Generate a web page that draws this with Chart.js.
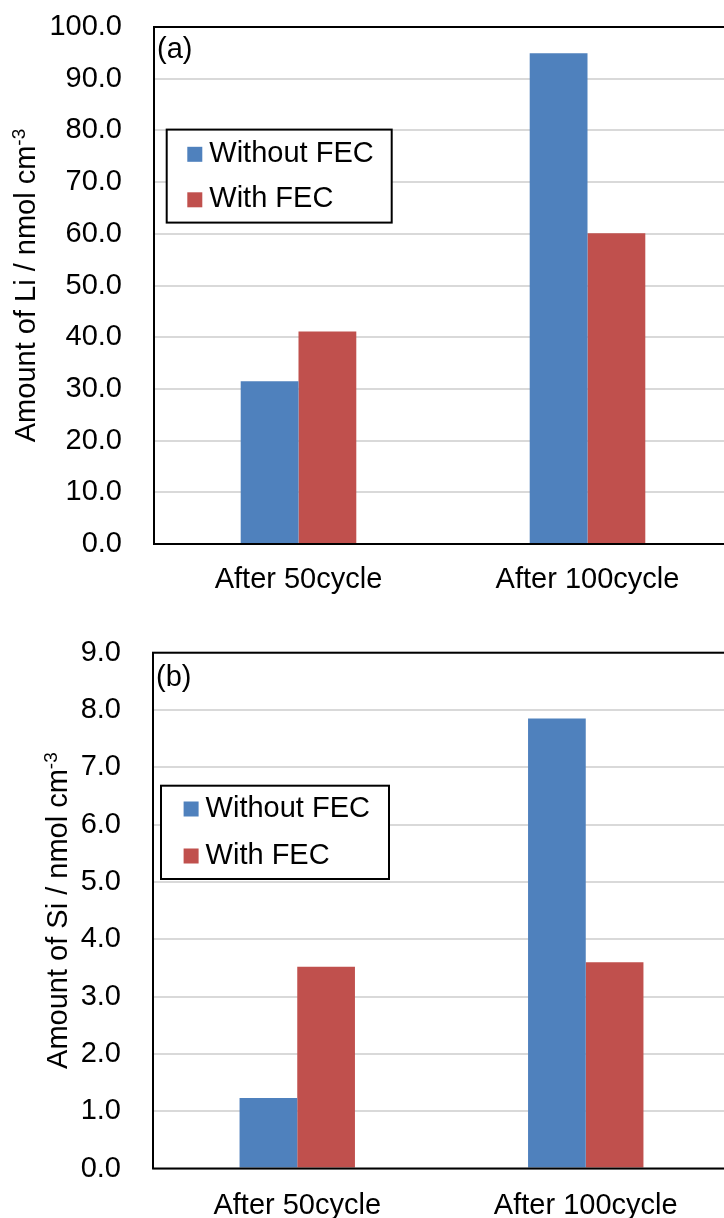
<!DOCTYPE html>
<html>
<head>
<meta charset="utf-8">
<script src="https://cdn.jsdelivr.net/npm/chart.js@4.4.1/dist/chart.umd.min.js"></script>
<style>
  html, body { margin: 0; padding: 0; background: #fff; overflow: hidden; width: 724px; height: 1218px; }
  .panel { position: absolute; left: 0; }
  #p1 { top: 0; }
  #p2 { top: 605px; }
</style>
</head>
<body>
<div class="panel" id="p1"><canvas id="c1" width="740" height="605" style="width:740px;height:605px"></canvas></div>
<div class="panel" id="p2"><canvas id="c2" width="740" height="613" style="width:740px;height:613px"></canvas></div>
<script>
// Categories and series
const categories = ['After 50cycle', 'After 100cycle'];
const seriesNames = ['Without FEC', 'With FEC'];
const seriesColors = ['#4F81BD', '#C0504D'];

// Amount of Li (nmol cm^-3)
const liWithoutFEC = [31.5, 94.9];
const liWithFEC = [41.1, 60.1];

// Amount of Si (nmol cm^-3)
const siWithoutFEC = [1.23, 7.85];
const siWithFEC = [3.52, 3.60];

// Y-axis tick values
const liTicks = [0, 10, 20, 30, 40, 50, 60, 70, 80, 90, 100];
const siTicks = [0, 1, 2, 3, 4, 5, 6, 7, 8, 9];

const FONT = '"Liberation Sans", Arial, Helvetica, sans-serif';
const FS = 29;
const Y_LABEL_GAP = 32;

// Frame, panel letter, boxed legend and y-axis title with superscript
const panelDecor = {
  id: 'panelDecor',
  afterDatasetsDraw(chart, args, opts) {
    const { ctx, chartArea: a } = chart;
    ctx.save();
    ctx.strokeStyle = '#000';
    ctx.lineWidth = 2;
    ctx.strokeRect(a.left, a.top, a.right - a.left, a.bottom - a.top);
    ctx.restore();
  },
  afterDraw(chart, args, opts) {
    const { ctx, chartArea: a } = chart;
    ctx.save();
    ctx.fillStyle = '#000';
    ctx.font = FS + 'px ' + FONT;
    ctx.textBaseline = 'alphabetic';
    ctx.textAlign = 'left';
    // panel letter
    ctx.fillText(opts.letter, a.left + 3, a.top + opts.letterDy);

    // boxed legend
    const bx = a.left + opts.legend.x, by = a.top + opts.legend.y;
    ctx.fillStyle = '#fff';
    ctx.fillRect(bx, by, opts.legend.w, opts.legend.h);
    ctx.strokeStyle = '#000';
    ctx.lineWidth = 2;
    ctx.strokeRect(bx, by, opts.legend.w, opts.legend.h);
    chart.data.datasets.forEach((ds, i) => {
      const cy = by + opts.legend.rows[i];
      const sx = bx + opts.legend.sq;
      ctx.fillStyle = ds.backgroundColor;
      ctx.fillRect(sx, cy - 7.5, 15, 15);
      ctx.fillStyle = '#000';
      ctx.fillText(ds.label, sx + 22, cy + 7.5);
    });

    // y-axis title, hugging the widest tick label
    const ys = chart.scales.y;
    let maxW = 0;
    ys.ticks.forEach(t => { maxW = Math.max(maxW, ctx.measureText(t.label).width); });
    const bxTitle = a.left - Y_LABEL_GAP - maxW - opts.titleGap;
    const cy = (a.top + a.bottom) / 2;
    const supFont = '19px ' + FONT;
    const wMain = ctx.measureText(opts.title).width;
    ctx.font = supFont;
    const wSup = ctx.measureText(opts.titleSup).width;
    const start = -(wMain + wSup) / 2;
    ctx.translate(bxTitle, cy);
    ctx.rotate(-Math.PI / 2);
    ctx.fillStyle = '#000';
    ctx.font = FS + 'px ' + FONT;
    ctx.fillText(opts.title, start, 0);
    ctx.font = supFont;
    ctx.fillText(opts.titleSup, start + wMain, -10);
    ctx.restore();
  }
};

function makePanel(canvasId, values, ticks, yMax, cfg) {
  return new Chart(document.getElementById(canvasId), {
    type: 'bar',
    data: {
      labels: categories,
      datasets: values.map((v, i) => ({
        label: seriesNames[i],
        data: v,
        backgroundColor: seriesColors[i],
        borderWidth: 0,
        categoryPercentage: 0.4,
        barPercentage: 1.0
      }))
    },
    options: {
      responsive: false,
      animation: false,
      devicePixelRatio: 1,
      layout: { padding: { top: cfg.top, left: 0, right: 740 - cfg.right, bottom: 0 } },
      plugins: {
        legend: { display: false },
        tooltip: { enabled: false },
        panelDecor: cfg.decor
      },
      scales: {
        x: {
          grid: { display: false, drawTicks: false },
          border: { display: false },
          ticks: { color: '#000', font: { family: FONT, size: FS }, padding: cfg.xPad, maxRotation: 0 },
          afterFit: s => { s.height = cfg.xHeight; }
        },
        y: {
          min: 0,
          max: yMax,
          afterBuildTicks: s => { s.ticks = ticks.map(v => ({ value: v })); },
          grid: {
            color: '#d9d9d9', lineWidth: 2,
            drawTicks: true, tickLength: Y_LABEL_GAP, tickColor: 'rgba(0,0,0,0)'
          },
          border: { display: false },
          ticks: {
            color: '#000',
            font: { family: FONT, size: FS },
            padding: 0,
            callback: v => Number(v).toFixed(1)
          },
          afterFit: s => { s.width = cfg.left; }
        }
      }
    },
    plugins: [panelDecor]
  });
}

makePanel('c1', [liWithoutFEC, liWithFEC], liTicks, 100, {
  top: 27, left: 154, right: 732, xHeight: 61, xPad: 19,
  decor: {
    letter: '(a)', letterDy: 30.5,
    title: 'Amount of Li / nmol cm', titleSup: '-3', titleGap: 14,
    legend: { x: 12.7, y: 102.6, w: 225, h: 93, sq: 20.6, rows: [24.7, 70.2] }
  }
});

makePanel('c2', [siWithoutFEC, siWithFEC], siTicks, 9, {
  top: 47.7, left: 153, right: 730, xHeight: 49.5, xPad: 20,
  decor: {
    letter: '(b)', letterDy: 33,
    title: 'Amount of Si / nmol cm', titleSup: '-3', titleGap: 14,
    legend: { x: 8, y: 133, w: 228, h: 93.3, sq: 22.6, rows: [23.3, 70.3] }
  }
});
</script>
</body>
</html>
